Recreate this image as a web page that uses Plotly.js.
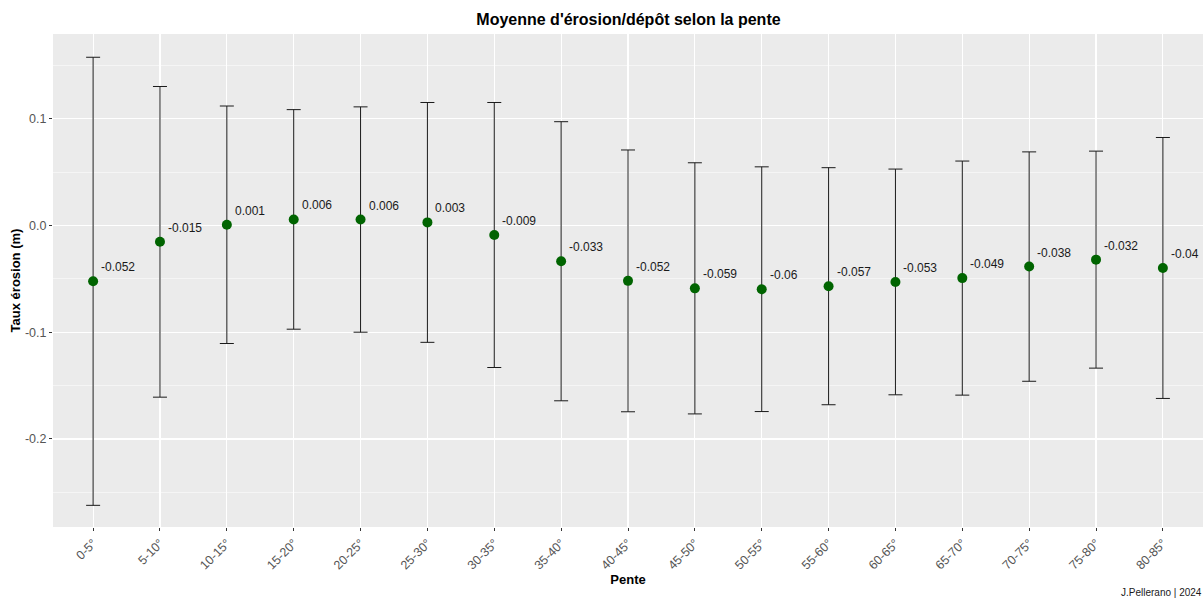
<!DOCTYPE html>
<html>
<head>
<meta charset="utf-8">
<script src="https://cdn.plot.ly/plotly-3.0.1.min.js"></script>
<style>html,body{margin:0;padding:0;background:#fff}#chart{width:1204px;height:600px}</style>
</head>
<body>
<div id="chart"></div>
<script>
const categories = ["0-5°","5-10°","10-15°","15-20°","20-25°","25-30°","30-35°","35-40°","40-45°","45-50°","50-55°","55-60°","60-65°","65-70°","70-75°","75-80°","80-85°"];
const means = [-0.0522,-0.0152,0.0008,0.0058,0.0057,0.0030,-0.0088,-0.0334,-0.0518,-0.0588,-0.0596,-0.0568,-0.0528,-0.0492,-0.0384,-0.0319,-0.0397];
const sds = [0.2100,0.1456,0.1113,0.1029,0.1056,0.1124,0.1242,0.1308,0.1227,0.1177,0.1147,0.1111,0.1058,0.1097,0.1075,0.1017,0.1223];
const yTickVals = [0.1, 0.0, -0.1, -0.2];
const yTickText = ["0.1", "0.0", "-0.1", "-0.2"];

const labels = means.map(v => String(parseFloat(v.toFixed(3))));

const trace = {
  type: 'scatter', mode: 'markers',
  x: categories, y: means,
  marker: {color: '#006400', size: 10},
  error_y: {type: 'data', array: sds, visible: true, color: '#1a1a1a', thickness: 1, width: 7},
  hoverinfo: 'x+y', showlegend: false
};

const annotations = categories.map((c, i) => ({
  x: c, y: means[i], xref: 'x', yref: 'y', text: labels[i], showarrow: false,
  xanchor: 'left', yanchor: 'middle', xshift: 6, yshift: 14,
  font: {family: 'Liberation Sans, Arial, sans-serif', size: 12, color: '#1a1a1a'}
}));
annotations.push({
  xref: 'paper', yref: 'paper', x: 1, y: 0, xanchor: 'right', yanchor: 'bottom',
  xshift: 1, yshift: -73, text: 'J.Pellerano | 2024', showarrow: false,
  font: {family: 'Liberation Sans, Arial, sans-serif', size: 10, color: '#1a1a1a'}
});

const layout = {
  width: 1204, height: 600,
  margin: {l: 52.5, r: 1, t: 33.5, b: 73},
  paper_bgcolor: '#ffffff', plot_bgcolor: '#EBEBEB',
  font: {family: 'Liberation Sans, Arial, sans-serif', color: '#4D4D4D'},
  title: {text: "<b>Moyenne d'érosion/dépôt selon la pente</b>", x: 0.522, xanchor: 'center', y: 0.968, yanchor: 'middle',
          font: {size: 16, color: '#000000', family: 'Liberation Sans, Arial, sans-serif'}},
  xaxis: {
    type: 'category', categoryorder: 'array', categoryarray: categories,
    range: [-0.6, categories.length - 0.4],
    tickangle: -45, tickfont: {size: 12.5, color: '#555555'},
    ticks: 'outside', ticklen: 3, tickcolor: '#333333', tickwidth: 1,
    showgrid: true, gridcolor: '#ffffff', gridwidth: 1.1,
    zeroline: false, showline: false, automargin: false,
    title: {text: '<b>Pente</b>', font: {size: 13, color: '#000000'}, standoff: 2}
  },
  yaxis: {
    range: [-0.2825, 0.1796],
    tickvals: yTickVals, ticktext: yTickText,
    tickfont: {size: 12.5, color: '#555555'},
    ticks: 'outside', ticklen: 3, tickcolor: '#333333', tickwidth: 1,
    showgrid: true, gridcolor: '#ffffff', gridwidth: 1.1,
    minor: {dtick: 0.05, tick0: 0.05, showgrid: true, gridcolor: '#ffffff', gridwidth: 0.5, ticks: ''},
    zeroline: false, showline: false, automargin: false,
    title: {text: '<b>Taux érosion (m)</b>', font: {size: 13, color: '#000000'}, standoff: 1}
  },
  annotations: annotations
};

Plotly.newPlot('chart', [trace], layout, {displayModeBar: false, staticPlot: true});
</script>
</body>
</html>
